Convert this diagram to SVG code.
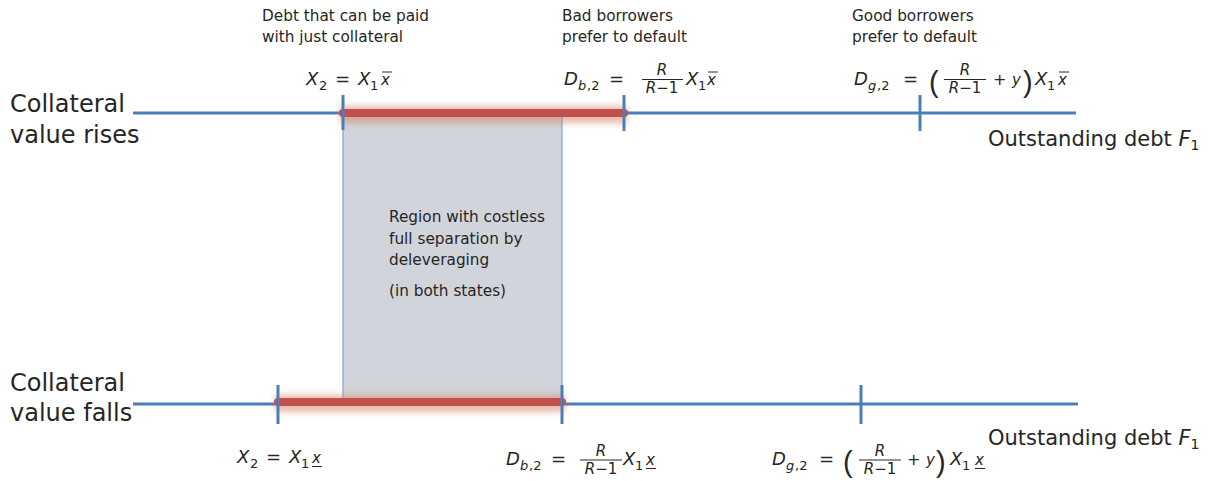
<svg xmlns="http://www.w3.org/2000/svg" width="1214" height="481" viewBox="0 0 1214 481">
<defs>
<style>
text{font-family:"DejaVu Sans","Liberation Sans",sans-serif;fill:#262626}
.lab{font-size:15.3px}
.big{font-size:24px}
.out{font-size:21px}
.m{font-size:18px;font-style:italic}
.mx{font-size:15px;font-style:italic}
.mu{font-size:18px}
.pl{font-size:16px}
.s{font-size:13px}
.si{font-size:13px;font-style:italic}
.f{font-size:15px;font-style:italic}
.par{font-family:"Liberation Sans",sans-serif;font-size:29px}
.axis{stroke:#4a7ebb;stroke-width:3;fill:none}
.tick{stroke:#4a7ebb;stroke-width:3}
.bar{stroke:#c0504d;stroke-width:8;stroke-linecap:round}
.glow{fill:#d9835e;opacity:0.55;filter:url(#blur)}
.ml{stroke:#262626;stroke-width:1}
</style>
<filter id="blur" filterUnits="userSpaceOnUse" x="0" y="0" width="1214" height="481"><feGaussianBlur stdDeviation="3"/></filter>
</defs>

<g id="region">
<rect x="343" y="113" width="219" height="289" fill="#d1d4da"/>
<line x1="343" y1="113" x2="343" y2="402" stroke="#7fa3d3" stroke-width="1.2"/>
<line x1="562" y1="113" x2="562" y2="402" stroke="#7fa3d3" stroke-width="1.2"/>
<text class="lab" x="389" y="222">Region with costless</text>
<text class="lab" x="389" y="244">full separation by</text>
<text class="lab" x="389" y="265">deleveraging</text>
<text class="lab" x="389" y="296">(in both states)</text>
</g>

<g id="connectors">
<line class="axis" x1="133" y1="113" x2="1076" y2="113"/>
<line class="axis" x1="133" y1="404" x2="1078" y2="404"/>
<rect class="glow" x="340" y="106" width="287" height="17"/>
<rect class="glow" x="275" y="395" width="290" height="17"/>
<line class="bar" x1="343" y1="113" x2="624" y2="113"/>
<line class="bar" x1="278" y1="402" x2="562" y2="402"/>
<line class="tick" x1="343" y1="95" x2="343" y2="130"/>
<line class="tick" x1="624" y1="95" x2="624" y2="131"/>
<line class="tick" x1="920" y1="95" x2="920" y2="131"/>
<line class="tick" x1="278" y1="385" x2="278" y2="424"/>
<line class="tick" x1="562" y1="385" x2="562" y2="424"/>
<line class="tick" x1="861" y1="385" x2="861" y2="424"/>
</g>

<g id="state-rise">
<text class="big" x="10" y="112">Collateral</text>
<text class="big" x="10" y="143">value rises</text>
<text class="out" x="988" y="146">Outstanding debt <tspan font-style="italic">F</tspan><tspan font-size="14" dy="4">1</tspan></text>
</g>

<g id="state-fall">
<text class="big" x="10" y="391">Collateral</text>
<text class="big" x="10" y="421">value falls</text>
<text class="out" x="988" y="445">Outstanding debt <tspan font-style="italic">F</tspan><tspan font-size="14" dy="4">1</tspan></text>
</g>

<g id="top-labels">
<text class="lab" x="262" y="21">Debt that can be paid</text>
<text class="lab" x="262" y="42">with just collateral</text>
<text class="lab" x="562" y="21">Bad borrowers</text>
<text class="lab" x="562" y="42">prefer to default</text>
<text class="lab" x="852" y="21">Good borrowers</text>
<text class="lab" x="852" y="42">prefer to default</text>
</g>

<g id="label-x2-top">
<text class="m" x="306" y="85">X</text>
<text class="s" x="319" y="90">2</text>
<text class="mu" x="335" y="85">=</text>
<text class="m" x="358" y="85">X</text>
<text class="s" x="370" y="90">1</text>
<text class="mx" x="381" y="85">x</text>
<line class="ml" x1="382" y1="72" x2="392" y2="72"/>
</g>

<g id="label-db-top">
<text class="m" x="564" y="85">D</text>
<text class="si" x="578" y="90">b</text>
<text class="s" x="587" y="90">,2</text>
<text class="mu" x="609" y="85">=</text>
<text class="f" x="662" y="75" text-anchor="middle">R</text>
<line class="ml" x1="642" y1="79.5" x2="683" y2="79.5"/>
<text class="f" x="662" y="93" text-anchor="middle">R<tspan font-style="normal">−1</tspan></text>
<text class="m" x="686" y="85">X</text>
<text class="s" x="698" y="90">1</text>
<text class="mx" x="707" y="85">x</text>
<line class="ml" x1="708" y1="72" x2="718" y2="72"/>
</g>

<g id="label-dg-top">
<text class="m" x="854" y="85">D</text>
<text class="si" x="868" y="90">g</text>
<text class="s" x="877" y="90">,2</text>
<text class="mu" x="903" y="85">=</text>
<text class="par" x="929" y="92">(</text>
<text class="f" x="965" y="75" text-anchor="middle">R</text>
<line class="ml" x1="944" y1="79.5" x2="986" y2="79.5"/>
<text class="f" x="965" y="93" text-anchor="middle">R<tspan font-style="normal">−1</tspan></text>
<text class="pl" x="993" y="85">+</text>
<text class="mx" x="1012" y="85">y</text>
<text class="par" x="1023" y="92">)</text>
<text class="m" x="1035" y="85">X</text>
<text class="s" x="1047" y="90">1</text>
<text class="mx" x="1058" y="85">x</text>
<line class="ml" x1="1059" y1="72" x2="1069" y2="72"/>
</g>

<g id="label-x2-bottom">
<text class="m" x="237" y="463">X</text>
<text class="s" x="250" y="468">2</text>
<text class="mu" x="266" y="463">=</text>
<text class="m" x="289" y="463">X</text>
<text class="s" x="301" y="468">1</text>
<text class="mx" x="312" y="463">x</text>
<line class="ml" x1="312" y1="466.5" x2="322" y2="466.5"/>
</g>

<g id="label-db-bottom">
<text class="m" x="506" y="465">D</text>
<text class="si" x="520" y="470">b</text>
<text class="s" x="529" y="470">,2</text>
<text class="mu" x="551" y="465">=</text>
<text class="f" x="601" y="456" text-anchor="middle">R</text>
<line class="ml" x1="580" y1="460" x2="622" y2="460"/>
<text class="f" x="601" y="474" text-anchor="middle">R<tspan font-style="normal">−1</tspan></text>
<text class="m" x="623" y="465">X</text>
<text class="s" x="635" y="470">1</text>
<text class="mx" x="646" y="465">x</text>
<line class="ml" x1="646" y1="468.5" x2="656" y2="468.5"/>
</g>

<g id="label-dg-bottom">
<text class="m" x="772" y="465">D</text>
<text class="si" x="786" y="470">g</text>
<text class="s" x="795" y="470">,2</text>
<text class="mu" x="819" y="465">=</text>
<text class="par" x="843" y="472">(</text>
<text class="f" x="880" y="456" text-anchor="middle">R</text>
<line class="ml" x1="859" y1="460" x2="901" y2="460"/>
<text class="f" x="880" y="474" text-anchor="middle">R<tspan font-style="normal">−1</tspan></text>
<text class="pl" x="907" y="465">+</text>
<text class="mx" x="926" y="465">y</text>
<text class="par" x="936" y="472">)</text>
<text class="m" x="950" y="465">X</text>
<text class="s" x="962" y="470">1</text>
<text class="mx" x="975" y="465">x</text>
<line class="ml" x1="975" y1="468.5" x2="985" y2="468.5"/>
</g>
</svg>
